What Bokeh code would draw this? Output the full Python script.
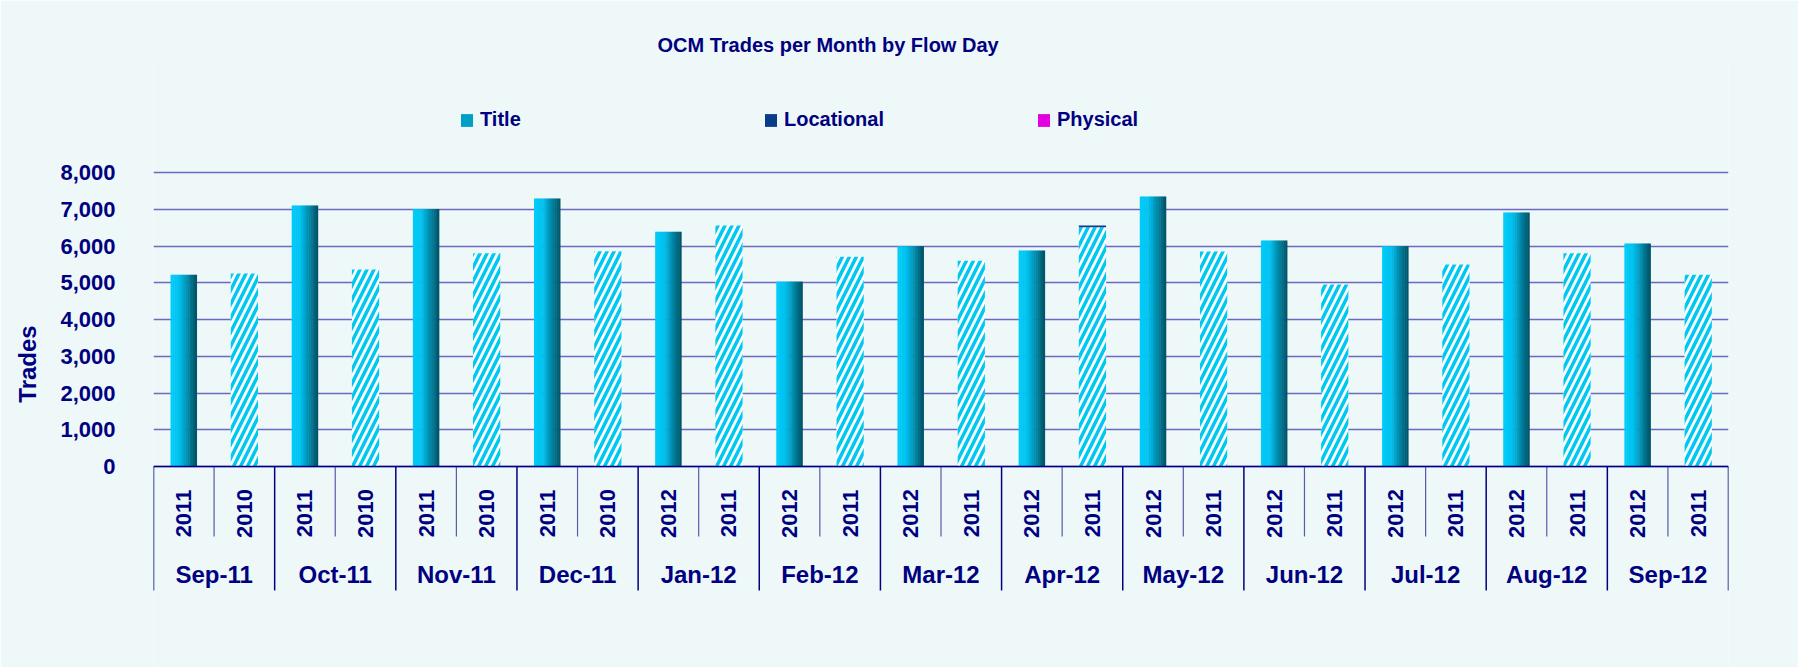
import math
from bokeh.plotting import figure
from bokeh.models import (FactorRange, Range1d, FixedTicker, NumeralTickFormatter,
                          Legend, LegendItem, ColumnDataSource, Span)
from bokeh.transform import dodge
from bokeh.core.properties import value
from bokeh.embed import file_html
from bokeh.resources import INLINE

# ---------------- data ----------------
months = ["Sep-11", "Oct-11", "Nov-11", "Dec-11", "Jan-12", "Feb-12", "Mar-12",
          "Apr-12", "May-12", "Jun-12", "Jul-12", "Aug-12", "Sep-12"]
current_years = ["2011", "2011", "2011", "2011", "2012", "2012", "2012",
                 "2012", "2012", "2012", "2012", "2012", "2012"]
prior_years = ["2010", "2010", "2010", "2010", "2011", "2011", "2011",
               "2011", "2011", "2011", "2011", "2011", "2011"]
title_current = [5220, 7100, 7010, 7290, 6390, 5030, 5990, 5880, 7350, 6150, 5990, 6910, 6070]
title_prior = [5250, 5360, 5800, 5860, 6560, 5710, 5600, 6510, 5850, 4950, 5500, 5800, 5220]
locational_current = [0, 0, 0, 0, 0, 0, 0, 0, 0, 0, 0, 0, 0]
locational_prior = [0, 0, 0, 0, 0, 0, 0, 50, 0, 0, 0, 0, 0]
physical_current = [0, 0, 0, 0, 0, 0, 0, 0, 0, 0, 0, 0, 0]
physical_prior = [0, 0, 0, 0, 0, 0, 0, 0, 0, 0, 0, 0, 0]
y_ticks = [0, 1000, 2000, 3000, 4000, 5000, 6000, 7000, 8000]
series_names = ["Title", "Locational", "Physical"]
chart_title = "OCM Trades per Month by Flow Day"
y_label = "Trades"

# ---------------- style / layout ----------------
W, H = 1798, 667
BORDER_TOP = 60
FRAME_LEFT, FRAME_RIGHT_BORDER = 153, 70
PX_PER_UNIT = 36.75 / 1000.0      # pixels per trade
ZERO_Y = 466                      # figure y (px) of value 0
BG = "#EFF8F8"
NAVY = "#000080"
GRID = "#6A6AC0"
CYAN = "#00C8F0"
SANS = "Liberation Sans"

def px_to_val(py):
    return (ZERO_Y - py) / PX_PER_UNIT

y_start = px_to_val(H)
y_end = px_to_val(BORDER_TOP)

factors = []
for m, cy, py in zip(months, current_years, prior_years):
    factors.append((m, cy))
    factors.append((m, py))

x_range = FactorRange(*factors, factor_padding=0, group_padding=0,
                      subgroup_padding=0, range_padding=0)

p = figure(width=W, height=H, x_range=x_range, y_range=Range1d(y_start, y_end),
           output_backend="svg", toolbar_location=None,
           min_border_left=FRAME_LEFT, min_border_right=FRAME_RIGHT_BORDER,
           min_border_top=BORDER_TOP, min_border_bottom=0)
p.background_fill_color = BG
p.border_fill_color = BG
p.outline_line_color = None

p.title.text = chart_title
p.title.align = "left"
p.title.offset = 504
p.title.text_font = SANS
p.title.text_font_size = "20px"
p.title.text_font_style = "bold"
p.title.text_color = NAVY

p.xaxis.visible = False
p.xgrid.visible = False

yax = p.yaxis[0]
yax.ticker = FixedTicker(ticks=y_ticks)
yax.bounds = (y_ticks[0], y_ticks[-1])
yax.formatter = NumeralTickFormatter(format="0,0")
yax.axis_line_color = None
yax.major_tick_line_color = None
yax.minor_tick_line_color = None
yax.major_tick_out = 0
yax.major_tick_in = 0
yax.minor_tick_out = 0
yax.major_label_standoff = 38
yax.major_label_text_font = SANS
yax.major_label_text_font_size = "22px"
yax.major_label_text_font_style = "bold"
yax.major_label_text_color = NAVY
yax.axis_label = y_label
yax.axis_label_standoff = 16
yax.axis_label_text_font = SANS
yax.axis_label_text_font_size = "24px"
yax.axis_label_text_font_style = "bold"
yax.axis_label_text_color = NAVY
p.ygrid.grid_line_color = GRID
p.ygrid.grid_line_width = 1.3

# ---------------- sources ----------------
def stack(a, b):
    return [u + v for u, v in zip(a, b)]

loc_top_cur = stack(title_current, locational_current)
loc_top_pri = stack(title_prior, locational_prior)
cur = ColumnDataSource(dict(
    x=[(m, y) for m, y in zip(months, current_years)],
    title=title_current, loc_top=loc_top_cur,
    phys_top=stack(loc_top_cur, physical_current)))
pri = ColumnDataSource(dict(
    x=[(m, y) for m, y in zip(months, prior_years)],
    title=title_prior, loc_top=loc_top_pri,
    phys_top=stack(loc_top_pri, physical_prior)))

# gradient strips for current-year Title bars
BAR_W = 0.43
N = 14
def grad(t):
    stops = [(0.0, (0, 205, 250)), (0.35, (0, 192, 238)), (0.7, (0, 130, 160)), (1.0, (0, 80, 100))]
    for (t0, c0), (t1, c1) in zip(stops[:-1], stops[1:]):
        if t <= t1:
            f = (t - t0) / (t1 - t0)
            return "#%02x%02x%02x" % tuple(int(round(a + (b - a) * f)) for a, b in zip(c0, c1))
    return "#%02x%02x%02x" % stops[-1][1]

strip_renderers = []
for k in range(N):
    off = -BAR_W / 2 + (k + 0.5) * BAR_W / N
    r = p.vbar(x=dodge("x", off, range=p.x_range), top="title", bottom=0,
               width=BAR_W / N * 1.25, fill_color=grad((k + 0.5) / N),
               line_color=None, source=cur)
    strip_renderers.append(r)

# hatched prior-year Title bars
p.vbar(x="x", top="title", bottom=0, width=0.45, fill_color="white", line_color=None,
       hatch_pattern="right_diagonal_line", hatch_color=CYAN, hatch_weight=3.5,
       hatch_scale=14, source=pri)

# Locational (stacked)
p.vbar(x="x", bottom="title", top="loc_top", width=BAR_W, fill_color="#0A3C8C",
       line_color=None, source=cur)
loc_r = p.vbar(x="x", bottom="title", top="loc_top", width=0.45, fill_color="#0A3C8C",
               line_color=None, source=pri)
# Physical (stacked)
p.vbar(x="x", bottom="loc_top", top="phys_top", width=BAR_W, fill_color="#E000E0",
       line_color=None, source=cur)
phys_r = p.vbar(x="x", bottom="loc_top", top="phys_top", width=0.45, fill_color="#E000E0",
                line_color=None, source=pri)

# ---------------- category axis (drawn) ----------------
p.add_layout(Span(location=0, dimension="width", line_color=NAVY, line_width=1.5))

n = len(factors)
sub_x = list(range(1, n, 2))
mon_x = list(range(0, n + 1, 2))
sub_bottom = px_to_val(536)
mon_bottom = px_to_val(590)
p.segment(x0=sub_x, x1=sub_x, y0=[0] * len(sub_x), y1=[sub_bottom] * len(sub_x),
          line_color="#5A5AAA", line_width=1.2)
p.segment(x0=mon_x, x1=mon_x, y0=[0] * len(mon_x), y1=[mon_bottom] * len(mon_x),
          line_color=NAVY, line_width=1.5)

year_src = ColumnDataSource(dict(x=factors, t=[f[1] for f in factors]))
p.text(x="x", y=px_to_val(513), text="t", source=year_src, angle=math.pi / 2,
       text_align="center", text_baseline="middle", text_font=value(SANS),
       text_font_size="22px", text_font_style="bold", text_color=NAVY)
month_src = ColumnDataSource(dict(x=months, t=months))
p.text(x="x", y=px_to_val(574), text="t", source=month_src,
       text_align="center", text_baseline="middle", text_font=value(SANS),
       text_font_size="24px", text_font_style="bold", text_color=NAVY)

# ---------------- legend ----------------
legend_x = [306, 610, 883]
legend_y = 536
legend_r = [strip_renderers[N // 2], loc_r, phys_r]
for name, lx, r in zip(series_names, legend_x, legend_r):
    lg = Legend(items=[LegendItem(label=name, renderers=[r])], location=(lx, legend_y),
                orientation="horizontal", border_line_color=None, background_fill_alpha=0,
                padding=0, margin=0, glyph_width=15, glyph_height=16, label_standoff=6,
                label_text_font=SANS, label_text_font_size="20px",
                label_text_font_style="bold", label_text_color=NAVY)
    p.add_layout(lg)

open("out.html", "w").write(file_html(p, INLINE))
